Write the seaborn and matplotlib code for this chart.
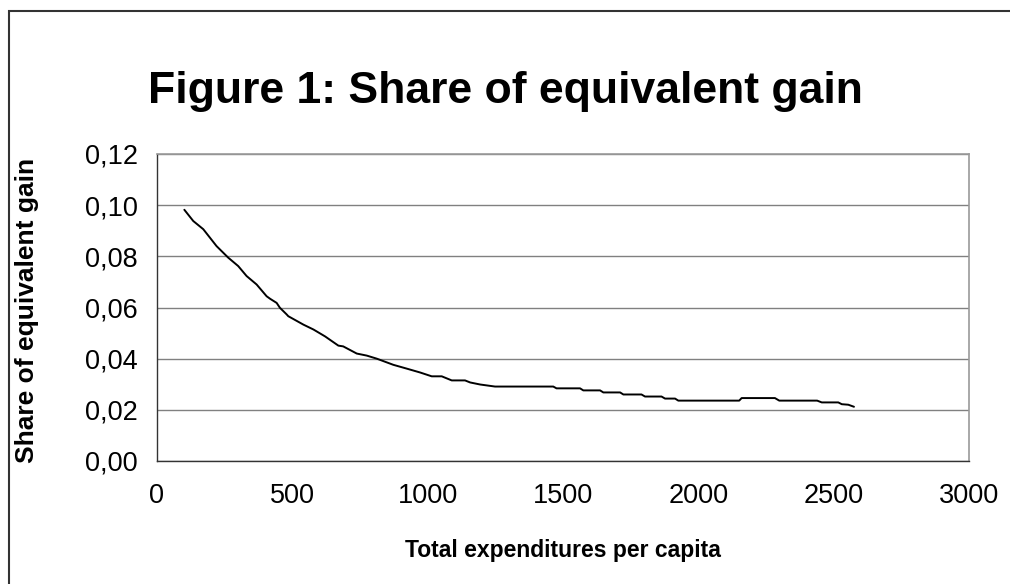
import matplotlib
matplotlib.use("Agg")
import matplotlib.pyplot as plt
from matplotlib.patches import Rectangle
import pandas as pd
import seaborn as sns

# Total expenditures per capita and the corresponding share of equivalent gain
expenditure = [101, 134, 171, 220, 263, 300, 331, 368, 405, 418, 442, 454, 479,
               485, 541, 578, 621, 670, 688, 738, 775, 812, 873, 923, 972, 1015,
               1052, 1089, 1138, 1157, 1194, 1249, 1464, 1476, 1563, 1575, 1637,
               1649, 1711, 1723, 1790, 1803, 1864, 1877, 1914, 1926, 2151, 2160,
               2283, 2299, 2439, 2456, 2517, 2530, 2554, 2575]
share_gain = [0.0982, 0.0938, 0.0906, 0.0840, 0.0795, 0.0762, 0.0723, 0.0690,
              0.0644, 0.0634, 0.0618, 0.0599, 0.0573, 0.0566, 0.0533, 0.0514,
              0.0487, 0.0451, 0.0448, 0.0420, 0.0412, 0.0400, 0.0376, 0.0361,
              0.0346, 0.0331, 0.0331, 0.0315, 0.0315, 0.0307, 0.0299, 0.0291,
              0.0291, 0.0284, 0.0284, 0.0276, 0.0276, 0.0268, 0.0268, 0.0260,
              0.0260, 0.0252, 0.0252, 0.0244, 0.0244, 0.0236, 0.0236, 0.0246,
              0.0246, 0.0236, 0.0236, 0.0229, 0.0229, 0.0222, 0.0220, 0.0212]

x_ticks = [0, 500, 1000, 1500, 2000, 2500, 3000]
y_ticks = [0.00, 0.02, 0.04, 0.06, 0.08, 0.10, 0.12]
y_tick_labels = ["0,00", "0,02", "0,04", "0,06", "0,08", "0,10", "0,12"]

title = "Figure 1: Share of equivalent gain"
x_label = "Total expenditures per capita"
y_label = "Share of equivalent gain"

sns.set_style("white")
plt.rcParams["font.family"] = ["Liberation Sans", "DejaVu Sans"]
plt.rcParams["text.color"] = "black"

df = pd.DataFrame({"expenditure": expenditure, "share": share_gain})

W, H = 1010, 584
fig = plt.figure(figsize=(W / 100, H / 100), dpi=100)
ax = fig.add_axes([157 / W, 1 - 461 / H, (969 - 157) / W, (461 - 154) / H])

sns.lineplot(data=df, x="expenditure", y="share", ax=ax, color="black",
             linewidth=1.4, estimator=None, sort=False)

ax.set_xlim(0, 3000)
ax.set_ylim(0, 0.12)
ax.set_xticks(x_ticks)
ax.set_xticklabels([str(t) for t in x_ticks])
ax.set_yticks(y_ticks)
ax.set_yticklabels(y_tick_labels)

ax.grid(axis="y", color="#808080", linewidth=1.0)
ax.set_axisbelow(True)

for side in ("left", "bottom"):
    ax.spines[side].set_color("#333333")
    ax.spines[side].set_linewidth(1.0)
for side in ("top", "right"):
    ax.spines[side].set_color("#9a9a9a")
    ax.spines[side].set_linewidth(1.2)

ax.tick_params(axis="both", direction="out", length=6, width=0.8,
               color="#333333", labelsize=19.5, labelcolor="black")
ax.tick_params(axis="y", pad=8)
ax.tick_params(axis="x", pad=10)

ax.set_xlabel("")
ax.set_ylabel("")
fig.text(563 / W, 1 - 550 / H, x_label, ha="center", va="center",
         fontsize=16.5, fontweight="bold", color="black")
fig.text(27 / W, 1 - 310 / H, y_label, ha="center", va="center",
         rotation=90, fontsize=19, fontweight="bold", color="black")

fig.text(505 / W, 1 - 91 / H, title, ha="center", va="center",
         fontsize=32, fontweight="bold", color="black")

# outer chart frame
fig.patches.append(Rectangle((9 / W, -0.05), 1.2, 1 - 11 / H + 0.05,
                             transform=fig.transFigure, fill=False,
                             edgecolor="#333333", linewidth=1.5))

fig.savefig("out.png", dpi=100)
